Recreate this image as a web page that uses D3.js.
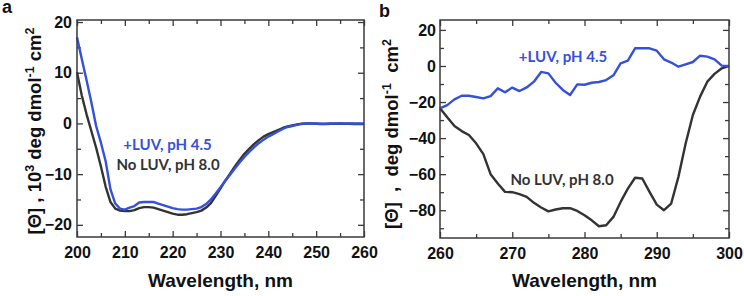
<!DOCTYPE html>
<html>
<head>
<meta charset="utf-8">
<script src="https://cdn.jsdelivr.net/npm/d3@7"></script>
<style>
  body { margin: 0; background: #fff; }
  svg { display: block; }
</style>
</head>
<body>
<div id="chart"></div>
<script>
// Panel a: far-UV CD, 200-260 nm (units 10^3 deg dmol-1 cm2)
const wavelengthA = [200, 201, 202, 203, 204, 205, 206, 207, 208, 209,
    210, 211, 212, 213, 214, 215, 216, 217, 218, 219,
    220, 221, 222, 223, 224, 225, 226, 227, 228, 229,
    230, 231, 232, 233, 234, 235, 236, 237, 238, 239,
    240, 241, 242, 243, 244, 245, 246, 247, 248, 249,
    250, 251, 252, 253, 254, 255, 256, 257, 258, 259, 260];
const noLuvA = [10.1, 5.5, 1.8, -1.5, -4.8, -8.5, -12.5, -15.5, -16.8, -17.2,
    -17.3, -17.3, -17.1, -16.7, -16.5, -16.5, -16.6, -16.9, -17.2, -17.5,
    -17.8, -18.0, -18.0, -17.9, -17.7, -17.5, -17.2, -16.6, -15.7, -14.3,
    -12.8, -11.3, -9.9, -8.5, -7.2, -6.0, -5.0, -4.1, -3.3, -2.6,
    -2.1, -1.7, -1.3, -0.9, -0.6, -0.4, -0.2, -0.05, 0, 0,
    -0.05, -0.1, -0.1, -0.05, -0.05, 0, -0.05, -0.05, -0.1, -0.1, -0.1];
const luvA = [17.0, 12.7, 8.5, 4.2, -0.5, -3.8, -7.5, -13.0, -15.8, -16.8,
    -17.0, -16.6, -16.3, -15.6, -15.5, -15.5, -15.5, -15.8, -16.1, -16.4,
    -16.7, -16.9, -17.0, -17.0, -16.9, -16.8, -16.5, -15.9, -15.0, -13.8,
    -12.6, -11.3, -10.1, -8.9, -7.7, -6.6, -5.6, -4.7, -3.9, -3.2,
    -2.6, -2.1, -1.6, -1.1, -0.7, -0.5, -0.3, -0.1, 0, 0,
    0, -0.05, -0.05, 0, 0, 0, 0, 0, 0, 0, -0.05];

// Panel b: near-UV CD, 260-300 nm (units deg dmol-1 cm2)
const wavelengthB = [260, 261, 262, 263, 264, 265, 266, 267, 268, 269,
    270, 271, 272, 273, 274, 275, 276, 277, 278, 279,
    280, 281, 282, 283, 284, 285, 286, 287, 288, 289,
    290, 291, 292, 293, 294, 295, 296, 297, 298, 299, 300];
const noLuvB = [-23.5, -28.5, -33.3, -36.1, -38.3, -42.9, -48.9, -60.0, -65.2, -69.8,
    -70.0, -71.1, -72.6, -75.9, -78.5, -80.6, -79.6, -78.9, -78.9, -80.4,
    -82.8, -85.6, -88.9, -88.3, -83.7, -75.4, -68.0, -62.0, -62.4, -69.8,
    -76.9, -80.0, -76.3, -61.5, -43.0, -27.2, -17.0, -8.7, -4.4, -1.3, 0];
const luvB = [-23.5, -21.7, -18.5, -16.5, -16.5, -17.2, -18.0, -16.7, -12.4, -14.6,
    -12.0, -13.9, -11.9, -8.7, -3.3, -4.1, -9.3, -13.3, -16.1, -10.2,
    -10.4, -9.3, -8.9, -7.8, -5.2, 1.5, 3.0, 9.8, 9.8, 9.8,
    8.5, 3.7, 1.9, -0.4, 0.9, 2.2, 5.7, 5.2, 3.7, 0.2, 0];

// tick values
const xTicksA = [200, 210, 220, 230, 240, 250, 260];
const xMinorA = [205, 215, 225, 235, 245, 255];
const yTicksA = [-20, -10, 0, 10, 20];
const yMinorA = [-15, -5, 5, 15];
const xTicksB = [260, 270, 280, 290, 300];
const xMinorB = [265, 275, 285, 295];
const yTicksB = [-80, -60, -40, -20, 0, 20];
const yMinorB = [-90, -70, -50, -30, -10, 10];

const blue = "#3550dc", dark = "#333333", frame = "#3a3a3a";
const axisFont = "'Liberation Sans', Arial, sans-serif";
const noteFont = "Lato, 'Open Sans', sans-serif";

const svg = d3.select("#chart")
    .append("svg")
    .attr("width", 744)
    .attr("height", 296);

function drawPanel(p) {
    const x = d3.scaleLinear().domain(p.xDomain).range([p.left, p.right]);
    const y = d3.scaleLinear().domain(p.yDomain).range([p.bottom, p.top]);
    const g = svg.append("g");

    // ticks on all four sides, pointing inward
    const addAxis = (axis, tx, ty, vals, size, labels, pad) => {
        const a = g.append("g")
            .attr("transform", `translate(${tx},${ty})`)
            .call(axis.tickValues(vals).tickSizeInner(-size).tickSizeOuter(0)
                .tickPadding(pad || 3)
                .tickFormat(labels ? d3.format("d") : ""));
        a.select(".domain").remove();
        a.selectAll(".tick line").attr("stroke", frame).attr("stroke-width", 1.3);
        a.selectAll(".tick text")
            .attr("fill", "#111")
            .style("font-family", axisFont)
            .style("font-weight", "bold")
            .style("font-size", "16px");
        return a;
    };
    addAxis(d3.axisBottom(x), 0, p.bottom, p.xTicks, 6, true, 9.5);
    addAxis(d3.axisBottom(x), 0, p.bottom, p.xMinor, 4, false);
    addAxis(d3.axisTop(x), 0, p.top, p.xTicks, 6, false);
    addAxis(d3.axisTop(x), 0, p.top, p.xMinor, 4, false);
    addAxis(d3.axisLeft(y), p.left, 0, p.yTicks, 6, true, p.yPad);
    addAxis(d3.axisLeft(y), p.left, 0, p.yMinor, 4, false);
    addAxis(d3.axisRight(y), p.right, 0, p.yTicks, 6, false);
    addAxis(d3.axisRight(y), p.right, 0, p.yMinor, 4, false);

    // curves
    const line = d3.line()
        .x(d => x(d[0]))
        .y(d => y(d[1]));
    p.series.forEach(s => {
        g.append("path")
            .datum(p.wl.map((w, i) => [w, s.values[i]]))
            .attr("fill", "none")
            .attr("stroke", s.color)
            .attr("stroke-width", 2.4)
            .attr("stroke-linejoin", "round")
            .attr("d", line);
    });

    // plot frame
    g.append("rect")
        .attr("x", p.left)
        .attr("y", p.top)
        .attr("width", p.right - p.left)
        .attr("height", p.bottom - p.top)
        .attr("fill", "none")
        .attr("stroke", frame)
        .attr("stroke-width", 1.5);

    // curve labels
    p.notes.forEach(n => {
        g.append("text")
            .attr("x", n.x)
            .attr("y", n.y)
            .attr("text-anchor", "middle")
            .attr("fill", n.color)
            .style("font-family", noteFont)
            .style("font-weight", "bold")
            .style("font-size", "15px")
            .text(n.text);
    });

    // x title
    g.append("text")
        .attr("x", (p.left + p.right) / 2)
        .attr("y", 287)
        .attr("text-anchor", "middle")
        .attr("fill", "#111")
        .style("font-family", axisFont)
        .style("font-weight", "bold")
        .style("font-size", "19px")
        .text("Wavelength, nm");

    // y title with superscripts
    const yt = g.append("text")
        .attr("transform", `translate(${p.yTitleX},${p.yTitleY}) rotate(-90)`)
        .attr("text-anchor", "middle")
        .attr("fill", "#111")
        .style("font-family", axisFont)
        .style("font-weight", "bold")
        .style("font-size", p.yTitleSize + "px")
        .style("white-space", "pre");
    p.yTitle.forEach(part => {
        const t = yt.append("tspan").text(part[0]);
        if (part[1] === "sup") t.attr("dy", -7).style("font-size", "12.5px");
        if (part[1] === "base") t.attr("dy", 7);
    });

    // panel letter
    svg.append("text")
        .attr("x", p.letterX)
        .attr("y", p.letterY)
        .attr("fill", "#111")
        .style("font-family", axisFont)
        .style("font-weight", "bold")
        .style("font-size", "18px")
        .text(p.letter);
}

drawPanel({
    letter: "a", letterX: 2, letterY: 13,
    left: 77, right: 364, top: 20, bottom: 237,
    xDomain: [200, 260], yDomain: [-22.4, 20.4],
    xTicks: xTicksA, xMinor: xMinorA, yTicks: yTicksA, yMinor: yMinorA, yPad: 5,
    wl: wavelengthA,
    series: [{ values: noLuvA, color: dark }, { values: luvA, color: blue }],
    notes: [
        { text: "+LUV, pH 4.5", x: 167.5, y: 149.5, color: blue },
        { text: "No LUV, pH 8.0", x: 168, y: 170, color: dark }
    ],
    yTitleX: 41, yTitleY: 131, yTitleSize: 18.5,
    yTitle: [["[\u0398] , 10"], ["3", "sup"], [" deg dmol", "base"], ["-1", "sup"], [" cm", "base"], ["2", "sup"]]
});

drawPanel({
    letter: "b", letterX: 379, letterY: 16.7,
    left: 440, right: 729, top: 20, bottom: 238,
    xDomain: [260, 300], yDomain: [-95.4, 25.5],
    xTicks: xTicksB, xMinor: xMinorB, yTicks: yTicksB, yMinor: yMinorB, yPad: 4,
    wl: wavelengthB,
    series: [{ values: noLuvB, color: dark }, { values: luvB, color: blue }],
    notes: [
        { text: "+LUV, pH 4.5", x: 563, y: 62, color: blue },
        { text: "No LUV, pH 8.0", x: 562, y: 185, color: dark }
    ],
    yTitleX: 398, yTitleY: 134, yTitleSize: 18.5,
    yTitle: [["[\u0398]  ,  deg dmol"], ["-1", "sup"], ["  cm", "base"], ["2", "sup"]]
});
</script>
</body>
</html>
